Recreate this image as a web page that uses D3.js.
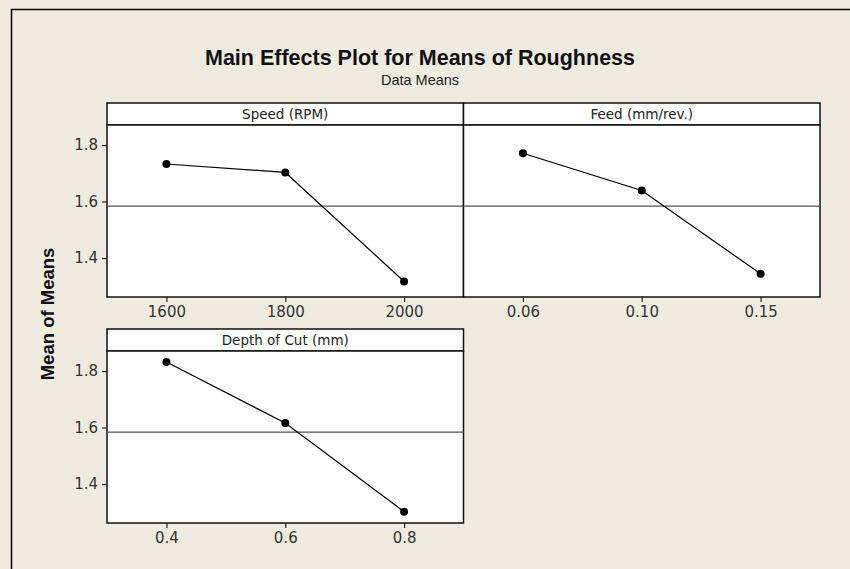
<!DOCTYPE html>
<html>
<head>
<meta charset="utf-8">
<script src="https://cdn.jsdelivr.net/npm/d3@7"></script>
<style>
  body { margin: 0; background: #efebe1; }
  svg { display: block; }
</style>
</head>
<body>
<svg id="chart" width="850" height="569"></svg>
<script>
// factor levels and mean roughness at each level
const speedLevels = ["1600", "1800", "2000"];
const speedMeans = [1.733, 1.703, 1.317];
const feedLevels = ["0.06", "0.10", "0.15"];
const feedMeans = [1.771, 1.639, 1.344];
const depthLevels = ["0.4", "0.6", "0.8"];
const depthMeans = [1.832, 1.616, 1.302];
const grandMean = 1.584;
const yTicks = [1.4, 1.6, 1.8];

const panels = [
  { title: "Speed (RPM)", levels: speedLevels, values: speedMeans, col: 0, row: 0 },
  { title: "Feed (mm/rev.)", levels: feedLevels, values: feedMeans, col: 1, row: 0 },
  { title: "Depth of Cut (mm)", levels: depthLevels, values: depthMeans, col: 0, row: 1 }
];

var svg = d3.select("#chart"),
    font = "'DejaVu Sans', 'Liberation Sans', sans-serif",
    gridLeft = 107, gridTop = 103,
    panelW = 356.5, stripH = 22, plotH = 172, rowGap = 226;

// outer frame (left and top edges only show)
svg.append("rect").attr("x", 0).attr("y", 0).attr("width", 850).attr("height", 569).attr("fill", "#efebe1");
svg.append("path").attr("d", "M11.5,569V9.5H850").attr("fill", "none").attr("stroke", "#000").attr("stroke-width", 1.5);

svg.append("text")
  .attr("x", 420).attr("y", 65)
  .attr("text-anchor", "middle")
  .style("font-family", "'Liberation Sans', Arial, sans-serif").style("font-size", "21.5px").style("font-weight", "bold")
  .attr("fill", "#111")
  .text("Main Effects Plot for Means of Roughness");

svg.append("text")
  .attr("x", 420).attr("y", 85)
  .attr("text-anchor", "middle")
  .style("font-family", "'Liberation Sans', Arial, sans-serif").style("font-size", "14.5px")
  .attr("fill", "#222")
  .text("Data Means");

svg.append("text")
  .attr("transform", "translate(54,314) rotate(-90)")
  .attr("text-anchor", "middle")
  .style("font-family", "'Liberation Sans', Arial, sans-serif").style("font-size", "18.5px").style("font-weight", "bold")
  .attr("fill", "#111")
  .text("Mean of Means");

var y = d3.scaleLinear().domain([1.262, 1.871]).range([plotH, 0]);

var line = d3.line()
  .x(function(d) { return d[0]; })
  .y(function(d) { return y(d[1]); });

panels.forEach(function(p) {
  var gx = gridLeft + p.col * panelW,
      gy = gridTop + p.row * rowGap;
  var g = svg.append("g").attr("transform", "translate(" + gx + "," + gy + ")");

  var x = d3.scalePoint().domain(p.levels).range([0, panelW]).padding(0.5);

  // strip
  g.append("rect").attr("width", panelW).attr("height", stripH)
    .attr("fill", "#fff").attr("stroke", "#111").attr("stroke-width", 1.5);
  g.append("text")
    .attr("x", panelW / 2).attr("y", 16)
    .attr("text-anchor", "middle")
    .style("font-family", font).style("font-size", "13.5px")
    .attr("fill", "#222")
    .text(p.title);

  var plot = g.append("g").attr("transform", "translate(0," + stripH + ")");
  plot.append("rect").attr("width", panelW).attr("height", plotH)
    .attr("fill", "#fff").attr("stroke", "#111").attr("stroke-width", 1.5);

  // grand mean reference
  plot.append("line")
    .attr("x1", 0).attr("x2", panelW)
    .attr("y1", y(grandMean)).attr("y2", y(grandMean))
    .attr("stroke", "#555").attr("stroke-width", 1.2);

  var pts = p.levels.map(function(l, i) { return [x(l), p.values[i]]; });
  plot.append("path")
    .datum(pts)
    .attr("fill", "none")
    .attr("stroke", "#000")
    .attr("stroke-width", 1.2)
    .attr("d", line);
  plot.selectAll("circle").data(pts).enter().append("circle")
    .attr("cx", function(d) { return d[0]; })
    .attr("cy", function(d) { return y(d[1]); })
    .attr("r", 4)
    .attr("fill", "#000");

  var xa = plot.append("g")
    .attr("transform", "translate(0," + plotH + ")")
    .call(d3.axisBottom(x).tickSize(5).tickPadding(4));
  xa.select(".domain").remove();

  if (p.col === 0) {
    var ya = plot.append("g").call(d3.axisLeft(y).tickValues(yTicks).tickSize(5).tickPadding(4).tickFormat(d3.format(".1f")));
    ya.select(".domain").remove();
  }

  plot.selectAll(".tick line").attr("stroke", "#222").attr("stroke-width", 1.2);
  plot.selectAll(".tick text")
    .style("font-family", font).style("font-size", "15px")
    .attr("fill", "#333");
});
</script>
</body>
</html>
